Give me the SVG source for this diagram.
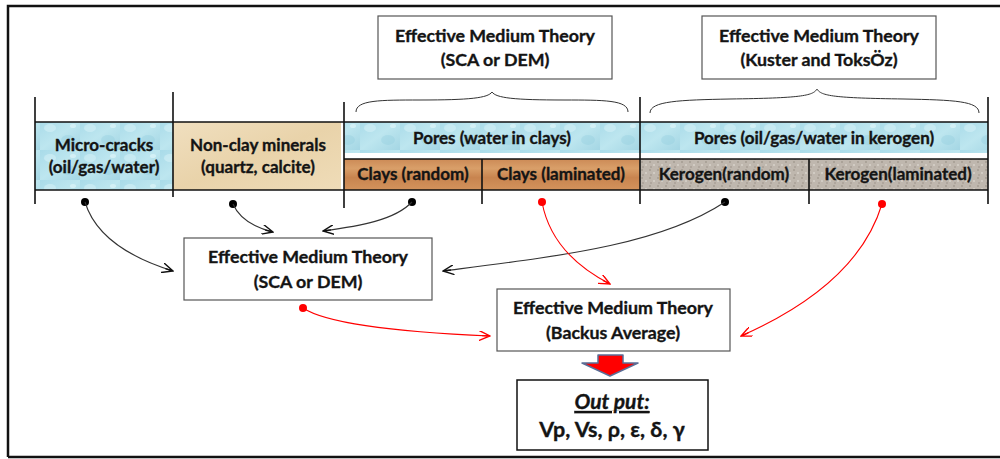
<svg xmlns="http://www.w3.org/2000/svg" width="1000" height="459" viewBox="0 0 1000 459">
<defs>
<style>
.t{font-family:Lato,"Liberation Sans",sans-serif;font-weight:bold;fill:#141414;stroke:#141414;stroke-width:0.35;text-anchor:middle;}
.f16{font-size:17.8px}
.f15{font-size:17px}
.box{fill:#fff;stroke:#555;stroke-width:1.2}
.edge{fill:none;stroke:#111;stroke-width:1.6}
.blk{fill:none;stroke:#333;stroke-width:1.1}
.red{fill:none;stroke:#f00;stroke-width:1.1}
.brace{fill:none;stroke:#333;stroke-width:1}
</style>
<linearGradient id="water" x1="0" y1="0" x2="1" y2="1">
<stop offset="0" stop-color="#a9dbe9"/>
<stop offset="0.5" stop-color="#bde6ef"/>
<stop offset="1" stop-color="#a4d6e4"/>
</linearGradient>
<pattern id="drops" width="40" height="30" patternUnits="userSpaceOnUse">
<rect width="40" height="30" fill="url(#water)"/>
<ellipse cx="10" cy="8" rx="6" ry="4" fill="#d4f0f6" opacity="0.6"/>
<ellipse cx="28" cy="20" rx="7" ry="5" fill="#8fcadb" opacity="0.35"/>
<ellipse cx="33" cy="6" rx="3" ry="2" fill="#e2f6fa" opacity="0.6"/>
</pattern>
<linearGradient id="sand" x1="0" y1="0" x2="1" y2="1">
<stop offset="0" stop-color="#f0dfbf"/>
<stop offset="0.5" stop-color="#e9d3aa"/>
<stop offset="1" stop-color="#efdcb8"/>
</linearGradient>
<linearGradient id="wood" x1="0" y1="0" x2="0" y2="1">
<stop offset="0" stop-color="#cc8a56"/>
<stop offset="0.3" stop-color="#d99f69"/>
<stop offset="0.6" stop-color="#c8844f"/>
<stop offset="1" stop-color="#d3935c"/>
</linearGradient>
<pattern id="gravel" width="8" height="8" patternUnits="userSpaceOnUse">
<rect width="8" height="8" fill="#bfb7ae"/>
<circle cx="2" cy="2" r="1" fill="#a59c92"/>
<circle cx="6" cy="5" r="1" fill="#d8d2cb"/>
<circle cx="3" cy="7" r="0.8" fill="#9a9188"/>
</pattern>
<marker id="ab" viewBox="0 0 12 10" refX="11" refY="5" markerWidth="12" markerHeight="10" markerUnits="userSpaceOnUse" orient="auto">
<path d="M0,0 L11,5 L0,10 M11,5 L3,5" fill="none" stroke="#111" stroke-width="1.4"/>
</marker>
<marker id="ar" viewBox="0 0 12 10" refX="11" refY="5" markerWidth="12" markerHeight="10" markerUnits="userSpaceOnUse" orient="auto">
<path d="M0,0 L11,5 L0,10 M11,5 L3,5" fill="none" stroke="#f00" stroke-width="1.4"/>
</marker>
</defs>
<rect width="1000" height="459" fill="#fff"/>
<path d="M8,457 L8,6 L1000,6 M8,457 L1000,457" fill="none" stroke="#111" stroke-width="2.5"/>

<g id="strip">
<rect x="35" y="122" width="138" height="68" fill="url(#drops)"/>
<rect x="173" y="122" width="168" height="68" fill="url(#sand)"/>
<rect x="344" y="122" width="296" height="31" fill="url(#drops)"/>
<rect x="640" y="122" width="348" height="31" fill="url(#drops)"/>
<rect x="344" y="159" width="296" height="31" fill="url(#wood)"/>
<rect x="640" y="159" width="348" height="31" fill="url(#gravel)"/>
<path class="edge" d="M35,122 H988 M35,190 H988 M344,159 H988"/>
<path class="edge" d="M35,97 V204 M173,92 V197 M344,102 V208 M482,159 V204 M640,97 V204 M809,159 V204 M988,97 V204"/>
</g>

<g id="node-microcracks">
<text class="t f15" x="104" y="151">Micro-cracks</text>
<text class="t f15" x="104" y="173">(oil/gas/water)</text>
</g>
<g id="node-nonclay">
<text class="t f15" x="258" y="151">Non-clay minerals</text>
<text class="t f15" x="258" y="173">(quartz, calcite)</text>
</g>
<g id="node-pores-clays"><text class="t f15" x="492" y="144">Pores (water in clays)</text></g>
<g id="node-pores-kerogen"><text class="t f15" x="814" y="144">Pores (oil/gas/water in kerogen)</text></g>
<g id="node-clays-random"><text class="t f15" x="413" y="180">Clays (random)</text></g>
<g id="node-clays-laminated"><text class="t f15" x="561" y="180">Clays (laminated)</text></g>
<g id="node-kerogen-random"><text class="t f15" x="724" y="180">Kerogen(random)</text></g>
<g id="node-kerogen-laminated"><text class="t f15" x="898" y="180">Kerogen(laminated)</text></g>

<g id="node-emt-top1">
<rect class="box" x="378" y="16" width="234" height="63"/>
<text class="t f16" x="495" y="42">Effective Medium Theory</text>
<text class="t f16" x="495" y="66">(SCA or DEM)</text>
</g>
<g id="node-emt-top2">
<rect class="box" x="702" y="16" width="234" height="63"/>
<text class="t f16" x="819" y="42">Effective Medium Theory</text>
<text class="t f16" x="819" y="66">(Kuster and ToksÖz)</text>
</g>
<g id="braces">
<path class="brace" d="M356,112 C356,100 380,100 420,100 C470,100 488,98 492,92 C496,98 514,100 564,100 C604,100 628,100 628,112"/>
<path class="brace" d="M650,113 C650,101 680,100 730,99 C800,98 813,96 817,89 C821,96 834,98 904,99 C954,100 979,101 979,113"/>
</g>

<g id="node-emt-mid">
<rect class="box" x="184" y="238" width="248" height="62"/>
<text class="t f16" x="308" y="263">Effective Medium Theory</text>
<text class="t f16" x="308" y="288">(SCA or DEM)</text>
</g>
<g id="node-backus">
<rect class="box" x="497" y="289" width="233" height="62"/>
<text class="t f16" x="613" y="314">Effective Medium Theory</text>
<text class="t f16" x="613" y="339">(Backus Average)</text>
</g>
<g id="node-output">
<rect x="517" y="380" width="191" height="70" fill="#fff" stroke="#111" stroke-width="1.5"/>
<text class="t" x="612" y="409" font-size="21" font-style="italic" text-decoration="underline">Out put:</text>
<text class="t" x="612" y="437" font-size="21.5">Vp, Vs, ρ, ε, δ, γ</text>
</g>
<g id="block-arrow">
<path d="M598,355 H623 V363 H638 L610,376 L582,363 H598 Z" fill="#f00" stroke="#5a6e96" stroke-width="1.5" stroke-linejoin="round"/>
</g>

<g id="connectors">
<g fill="#000">
<circle cx="85" cy="202" r="4"/>
<circle cx="233" cy="204" r="4"/>
<circle cx="412" cy="202" r="4"/>
<circle cx="725" cy="202" r="4"/>
</g>
<g fill="#f00">
<circle cx="542" cy="202" r="4"/>
<circle cx="882" cy="204" r="4"/>
<circle cx="303" cy="308" r="4"/>
</g>
<path class="blk" marker-end="url(#ab)" d="M85,202 C95,235 128,257 173,271"/>
<path class="blk" marker-end="url(#ab)" d="M233,204 C239,218 253,227 273,232"/>
<path class="blk" marker-end="url(#ab)" d="M412,202 C395,220 360,226 323,231"/>
<path class="blk" marker-end="url(#ab)" d="M725,202 C660,245 560,256 443,271"/>
<path class="red" marker-end="url(#ar)" d="M542,202 C549,240 575,266 610,284"/>
<path class="red" marker-end="url(#ar)" d="M882,204 C862,270 800,310 741,336"/>
<path class="red" marker-end="url(#ar)" d="M303,308 C330,326 420,333 490,336"/>
</g>
</svg>
